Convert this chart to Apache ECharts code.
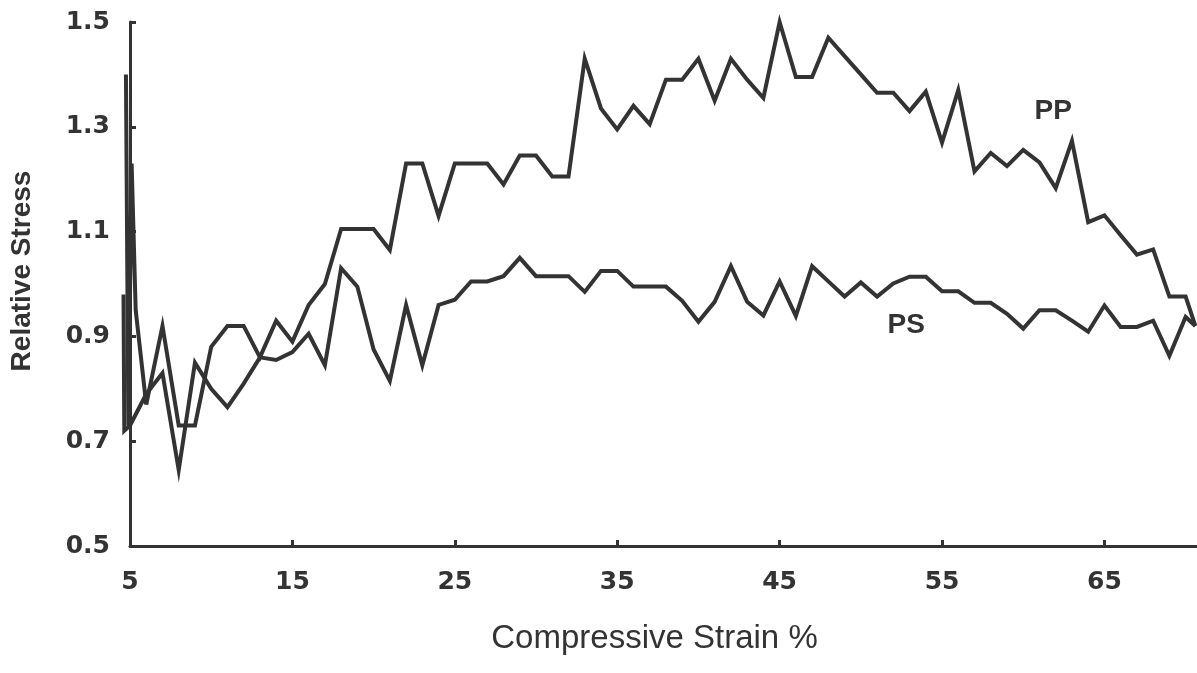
<!DOCTYPE html>
<html>
<head>
<meta charset="utf-8">
<script src="https://cdn.jsdelivr.net/npm/echarts@6/dist/echarts.min.js"></script>
<style>
  html, body { margin: 0; padding: 0; background: #fff; }
  #main { width: 1197px; height: 673px; }
</style>
</head>
<body>
<div id="main"></div>
<script>
// strain (%) sampled every 1 %, from 6 to 70
var strain = [];
for (var s = 6; s <= 70; s++) strain.push(s);

var ppValues = [
    0.77, 0.92, 0.73, 0.73, 0.88, 0.92, 0.92, 0.86, 0.93, 0.89,
    0.96, 1.00, 1.105, 1.105, 1.105, 1.065, 1.23, 1.23, 1.13, 1.23,
    1.23, 1.23, 1.19, 1.245, 1.245, 1.205, 1.205, 1.43, 1.335, 1.295,
    1.34, 1.305, 1.39, 1.39, 1.43, 1.35, 1.43, 1.39, 1.355, 1.50,
    1.395, 1.395, 1.47, 1.435, 1.40, 1.365, 1.365, 1.33, 1.367, 1.27,
    1.37, 1.215, 1.25, 1.225, 1.256, 1.232, 1.183, 1.273, 1.118, 1.131,
    1.093, 1.056, 1.066, 0.976, 0.976
];
var psValues = [
    0.79, 0.83, 0.645, 0.85, 0.80, 0.765, 0.81, 0.86, 0.855, 0.87,
    0.905, 0.845, 1.03, 0.995, 0.875, 0.815, 0.96, 0.845, 0.96, 0.97,
    1.005, 1.005, 1.015, 1.05, 1.015, 1.015, 1.015, 0.985, 1.025, 1.025,
    0.995, 0.995, 0.995, 0.968, 0.928, 0.966, 1.034, 0.966, 0.94, 1.005,
    0.939, 1.034, 1.005, 0.976, 1.003, 0.976, 1.001, 1.014, 1.014, 0.986,
    0.986, 0.964, 0.964, 0.943, 0.915, 0.95, 0.95, 0.93, 0.909, 0.959,
    0.918, 0.918, 0.93, 0.863, 0.937
];

// the jagged start of both traces, just left of the first tick
var ppStart = [[4.75, 1.40], [4.9, 0.73], [5.1, 1.23], [5.35, 0.95], [6, 0.77]];
var psStart = [[4.6, 0.98], [4.65, 0.72], [5.0, 0.73], [6, 0.79]];
// last partial reading at the right border
var ppEnd = [[70.6, 0.92]];
var psEnd = [[70.6, 0.92]];

var xTicks = [5, 15, 25, 35, 45, 55, 65];
var yTicks = [0.5, 0.7, 0.9, 1.1, 1.3, 1.5];

// where the curve names are written
var ppLabelAt = [61.85, 1.329];
var psLabelAt = [52.8, 0.922];

var xMin = 5, xMax = 70.7, xStartMin = 4.55;

function build(values, end) {
    var out = [];
    for (var i = 0; i < values.length; i++) {
        out.push([strain[i], values[i]]);
    }
    return out.concat(end);
}

var ink = '#333';
var font = '"Liberation Sans", Arial, sans-serif';
var wideFont = '"DejaVu Sans", "Liberation Sans", sans-serif';

var plotLeft = 130, plotRight = 0, plotTop = 22, plotBottom = 127;
// a second, hidden grid with the same scale, reaching a bit left of the y axis
var pxPerUnit = (1197 - plotLeft - plotRight) / (xMax - xMin);
var startLeft = plotLeft - (xMin - xStartMin) * pxPerUnit;

function lineSeries(name, data, axisIndex, labelAt) {
    var sr = {
        name: name,
        type: 'line',
        data: data,
        xAxisIndex: axisIndex,
        yAxisIndex: axisIndex,
        showSymbol: false,
        clip: false,
        lineStyle: { color: ink, width: 4, join: 'miter' },
        itemStyle: { color: ink }
    };
    if (labelAt) {
        sr.markPoint = {
            symbol: 'circle',
            symbolSize: 0,
            silent: true,
            label: {
                show: true,
                position: 'inside',
                color: ink,
                fontFamily: font,
                fontWeight: 'bold',
                fontSize: 28,
                formatter: name
            },
            data: [{ coord: labelAt, value: name }]
        };
    }
    return sr;
}

var myChart = echarts.init(document.getElementById('main'));
var option = {
    animation: false,
    backgroundColor: '#fff',
    grid: [
        { left: plotLeft, right: plotRight, top: plotTop, bottom: plotBottom },
        { left: startLeft, right: plotRight, top: plotTop, bottom: plotBottom }
    ],
    xAxis: [{
        type: 'value',
        gridIndex: 0,
        min: xMin,
        max: xMax,
        interval: 10,
        name: 'Compressive Strain %',
        nameLocation: 'middle',
        nameGap: 76,
        nameTextStyle: { color: ink, fontFamily: font, fontSize: 33, padding: [0, 18, 0, 0] },
        axisLine: { show: true, onZero: false, lineStyle: { color: ink, width: 3 } },
        axisTick: { show: true, inside: true, length: 6, lineStyle: { color: ink, width: 3 } },
        axisLabel: {
            color: ink, fontFamily: wideFont, fontWeight: 'bold', fontSize: 25, margin: 24,
            showMaxLabel: false,
            formatter: function (v) { return xTicks.indexOf(v) >= 0 ? String(v) : ''; }
        },
        splitLine: { show: false }
    }, {
        type: 'value',
        gridIndex: 1,
        min: xStartMin,
        max: xMax,
        show: false
    }],
    yAxis: [{
        type: 'value',
        gridIndex: 0,
        min: 0.5,
        max: 1.5,
        interval: 0.2,
        name: 'Relative Stress',
        nameLocation: 'middle',
        nameRotate: 90,
        nameGap: 94,
        nameTextStyle: {
            color: ink, fontFamily: font, fontWeight: 'bold', fontSize: 28,
            padding: [0, 0, 0, 26]
        },
        axisLine: { show: true, onZero: false, lineStyle: { color: ink, width: 3 } },
        axisTick: { show: true, inside: true, length: 6, lineStyle: { color: ink, width: 3 } },
        axisLabel: {
            color: ink, fontFamily: wideFont, fontWeight: 'bold', fontSize: 25, margin: 20,
            formatter: function (v) {
                for (var i = 0; i < yTicks.length; i++) {
                    if (Math.abs(yTicks[i] - v) < 1e-6) return yTicks[i].toFixed(1);
                }
                return '';
            }
        },
        splitLine: { show: false }
    }, {
        type: 'value',
        gridIndex: 1,
        min: 0.5,
        max: 1.5,
        show: false
    }],
    series: [
        lineSeries('PP', build(ppValues, ppEnd), 0, ppLabelAt),
        lineSeries('PS', build(psValues, psEnd), 0, psLabelAt),
        lineSeries('PP start', ppStart, 1, null),
        lineSeries('PS start', psStart, 1, null)
    ]
};
myChart.setOption(option);
</script>
</body>
</html>
